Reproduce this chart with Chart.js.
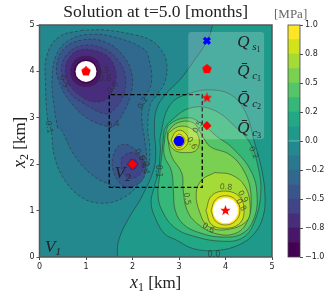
<!DOCTYPE html>
<html>
<head>
<meta charset="utf-8">
<style>
html,body{margin:0;padding:0;background:#fff;width:333px;height:300px;overflow:hidden}
canvas{position:absolute;left:0;top:0}
</style>
<script src="https://cdn.jsdelivr.net/npm/chart.js@4"></script>
</head>
<body>
<canvas id="plot" width="333" height="300"></canvas>
<canvas id="bar" width="333" height="300"></canvas>
<script>
// band colours, bottom to top of the colour bar
const bandColors = ['#440154','#481769','#472d7b','#414487','#39568c','#31688e','#2a788e','#23898e',
                    '#1f9a8a','#22a884','#35b779','#54c568','#7ad151','#a5db36','#d2e21b','#fde725'];
const bandEdges = [-1,-0.875,-0.75,-0.625,-0.5,-0.375,-0.25,-0.125,0,0.125,0.25,0.375,0.5,0.625,0.75,0.875,1];
const barTickValues = [-1,-0.75,-0.5,-0.25,0,0.25,0.5,0.75,1];
const barTickLabels = ['\u22121.0','\u22120.8','\u22120.5','\u22120.2','0.0','0.2','0.5','0.8','1.0'];
const axisTicks = [0,1,2,3,4,5];

// contour lines, in km
const backdrop = [[-1,-1],[6,-1],[6,6],[-1,6]];
const lineZero = [[3.78,5.5],[3.72,5],[3.6,4.65],[3.31,4.21],[3.02,3.82],[2.73,3.53],[2.52,3.2],[2.47,2.74],[2.5,2.3],[2.46,1.9],[2.2,1.3],[1.9,0.8],[1.7,0.35],[1.68,0],[1.72,-0.4],[5.6,-0.6],[5.6,5.6]];
const linePos1 = [[2.6,2.31],[2.6,2.6],[2.81,3.28],[3.24,3.53],[3.74,3.6],[4.17,3.46],[4.46,3.06],[4.6,2.56],[4.78,1.88],[4.85,1.31],[4.81,0.88],[4.63,0.52],[4.31,0.27],[3.81,0.14],[3.31,0.18],[2.95,0.36],[2.69,0.5],[2.51,0.8],[2.4,1.16],[2.47,1.52],[2.56,1.85]];
const linePos2 = [[2.68,2.74],[2.64,2.3],[2.59,1.81],[2.55,1.31],[2.66,0.95],[2.91,0.63],[3.31,0.45],[3.92,0.34],[4.38,0.42],[4.63,0.78],[4.76,1.4],[4.7,1.95],[4.53,2.45],[4.24,2.78],[3.74,3.17],[3.24,3.21],[2.81,2.92]];
const linePos3 = [[2.7,2.62],[2.68,2.2],[2.84,1.85],[2.88,1.4],[2.92,1.0],[3.1,0.7],[3.45,0.52],[3.92,0.43],[4.35,0.5],[4.6,0.8],[4.68,1.31],[4.55,1.85],[4.15,2.35],[3.81,2.6],[3.52,2.85],[3.2,3.0],[2.8,2.86]];
const linePos4 = [[2.75,2.6],[2.84,2.17],[3.06,1.81],[3.09,1.45],[3.17,1.02],[3.38,0.73],[3.81,0.5],[4.24,0.52],[4.48,0.8],[4.55,1.31],[4.42,1.81],[4.1,2.2],[3.67,2.38],[3.49,2.63],[3.31,2.89],[2.99,2.9],[2.77,2.71]];
const linePos5a = [[3.77,1.82],[3.49,1.66],[3.37,1.38],[3.45,0.95],[3.63,0.66],[4.02,0.59],[4.45,0.77],[4.53,1.09],[4.42,1.52],[4.13,1.77]];
const linePos5b = [[2.77,2.67],[2.99,2.81],[3.24,2.78],[3.42,2.6],[3.38,2.31],[3.09,2.25],[2.88,2.32],[2.77,2.52]];
const linePos6a = [[3.58,1.0],[3.7,1.32],[4.0,1.42],[4.3,1.3],[4.4,1.0],[4.3,0.72],[4.0,0.62],[3.7,0.7]];
const linePos6b = [[2.83,2.52],[2.93,2.7],[3.07,2.72],[3.2,2.55],[3.12,2.36],[2.95,2.32]];
const linePos7a = [[3.69,1.0],[3.78,1.23],[4.0,1.32],[4.22,1.23],[4.31,1.0],[4.22,0.78],[4.0,0.69],[3.78,0.78]];
const linePos7b = [[2.88,2.5],[3.0,2.65],[3.13,2.5],[3.0,2.36]];
const lineNeg1 = [[0.93,4.89],[0.43,4.75],[0.16,4.35],[0.13,3.71],[0.18,2.92],[0.25,2.74],[0.32,2.17],[0.54,1.66],[0.93,1.27],[1.36,1.16],[1.79,1.27],[2.15,1.59],[2.35,2.02],[2.37,2.38],[2.33,2.74],[2.38,3.28],[2.52,3.49],[2.7,3.78],[2.73,4.21],[2.59,4.5],[2.38,4.68],[2.08,4.78],[1.43,4.89]];
const lineNeg2 = [[0.39,2.78],[0.32,3.2],[0.27,3.78],[0.36,4.35],[0.65,4.68],[1.15,4.8],[1.72,4.71],[2.22,4.5],[2.33,4.35],[2.41,3.78],[2.23,3.32],[2.2,3.0],[2.26,2.52],[2.3,2.1],[2.15,1.66],[1.86,1.49],[1.51,1.56],[1.08,1.81],[0.72,2.24],[0.47,2.74]];
const lineNeg3a = [[1.55,2.78],[1.08,2.96],[0.68,3.32],[0.43,3.75],[0.37,4.14],[0.54,4.5],[0.93,4.68],[1.4,4.64],[1.79,4.35],[1.99,3.92],[1.95,3.46],[1.76,3.03]];
const lineNeg3b = [[1.56,1.95],[1.58,2.17],[1.72,2.4],[1.94,2.4],[2.22,2.13],[2.28,1.92],[2.19,1.63],[1.86,1.51],[1.65,1.7]];
const lineNeg4a = [[0.52,3.78],[0.47,4.07],[0.61,4.39],[0.93,4.56],[1.36,4.5],[1.68,4.25],[1.85,3.89],[1.79,3.46],[1.54,3.12],[1.36,3.1],[0.93,3.32],[0.65,3.53]];
const lineNeg4b = [[1.76,2.13],[1.94,2.25],[2.15,2.17],[2.24,1.99],[2.15,1.77],[1.94,1.7],[1.78,1.84]];
const lineNeg5a = [[1.59,3.64],[1.65,3.92],[1.51,4.28],[1.22,4.44],[0.86,4.46],[0.63,4.28],[0.56,4.0],[0.65,3.71],[0.9,3.46],[1.22,3.34],[1.47,3.42]];
const lineNeg5b = [[1.88,2.0],[2.0,2.12],[2.12,2.0],[2.0,1.88]];
const lineNeg6a = [[1.33,4.0],[1.24,4.24],[1.0,4.33],[0.76,4.24],[0.67,4.0],[0.76,3.76],[1.0,3.67],[1.24,3.76]];
const lineNeg6b = [[1.93,2.0],[2.0,2.07],[2.07,2.0],[2.0,1.93]];
const lineNeg7a = [[1.26,4.0],[1.18,4.18],[1.0,4.26],[0.82,4.18],[0.74,4.0],[0.82,3.82],[1.0,3.74],[1.18,3.82]];

// draw order: outermost first; [points, band index, dashed]
const contours = [
  [backdrop,7,false],
  [lineZero,8,false],[linePos1,9,false],[linePos2,10,false],[linePos3,11,false],[linePos4,12,false],
  [linePos5a,13,false],[linePos5b,13,false],[linePos6a,14,false],[linePos6b,14,false],[linePos7a,15,false],[linePos7b,15,false],
  [lineNeg1,6,true],[lineNeg2,5,true],[lineNeg3a,4,true],[lineNeg3b,4,true],[lineNeg4a,3,true],[lineNeg4b,3,true],
  [lineNeg5a,2,true],[lineNeg5b,2,true],[lineNeg6a,1,true],[lineNeg6b,1,true],[lineNeg7a,0,true]
];

const boxV2 = [[1.5,1.5],[3.5,1.5],[3.5,3.5],[1.5,3.5],[1.5,1.5]];
const holes = [[1,4],[4,1]];
const holeSizes = [10.5,12.5];
const pentagons = [[1,4],[3.6,4.05]];
const stars = [[4,1],[3.6,3.43]];
const diamonds = [[2,2],[3.6,2.83]];
const blueCircle = [[3,2.5]];
const blueCross = [[3.6,4.66]];
const panelBox = [3.2,4.83,2.54,4.85];

// contour labels: text, x, y, rotation in degrees
const contourLabels = [
  ['0.1',0.2,2.8,80],['0.5',0.52,3.78,70],['0.4',1.59,2.85,-8],['0.6',1.58,3.65,-50],['0.2',2.23,3.32,-60],
  ['0.9',1.36,4.02,0],['0.8',1.41,3.84,0],['0.5',2.15,2.2,60],['0.6',2.22,2.05,80],['0.4',2.27,1.93,90],
  ['0.1',2.55,1.85,90],['0.2',4.6,2.25,65],['0.0',3.75,0.04,0],['0.5',3.17,1.25,80],['0.6',3.63,0.62,30],
  ['0.8',4.01,1.5,5],['0.9',4.37,1.3,60],['0.8',4.33,1.12,60],['0.6',3.27,2.45,60],['0.5',3.41,2.8,-60]
];

const toPoints = list => list.map(p => ({x:p[0], y:p[1]}));

function shapeMarker(size, pts) {
  const c = document.createElement('canvas');
  c.width = size; c.height = size;
  const g = c.getContext('2d');
  g.fillStyle = '#ff0000';
  g.beginPath();
  for (let i = 0; i < pts; i++) {
    // star markers alternate outer and inner radius
    const r = pts === 10 && i % 2 ? size * 0.21 : size * 0.5;
    const a = -Math.PI / 2 + i * 2 * Math.PI / pts;
    g.lineTo(size/2 + r * Math.cos(a), size/2 + r * Math.sin(a));
  }
  g.closePath();
  g.fill();
  return c;
}
const pentagonMark = shapeMarker(10, 5);
const starMark = shapeMarker(11, 10);

const datasets = [];
contours.forEach(([pts, band, dashed], i) => {
  datasets.push({
    data: toPoints(pts.concat([pts[0]])),
    showLine: true, pointRadius: 0, tension: i === 0 ? 0 : 0.4, capBezierPoints: false,
    fill: 'shape', backgroundColor: bandColors[band],
    borderColor: 'rgba(45,45,45,0.6)', borderWidth: 0.9,
    borderDash: dashed ? [3,2] : []
  });
});
datasets.push({ data: toPoints(holes), showLine: false, pointStyle: 'circle', pointRadius: holeSizes,
  backgroundColor: '#ffffff', borderWidth: 0 });
datasets.push({ data: toPoints(boxV2), showLine: true, pointRadius: 0, tension: 0, fill: false,
  borderColor: '#000000', borderWidth: 1.3, borderDash: [4,2.5] });
const markersFrom = datasets.length;
datasets.push({ data: toPoints(pentagons), showLine: false, pointStyle: pentagonMark, pointRadius: 6 });
datasets.push({ data: toPoints(stars), showLine: false, pointStyle: starMark, pointRadius: 6 });
datasets.push({ data: toPoints(diamonds), showLine: false, pointStyle: 'rectRot', pointRadius: 4.6, backgroundColor: '#ff0000', borderWidth: 0 });
datasets.push({ data: toPoints(blueCircle), showLine: false, pointStyle: 'circle', pointRadius: 5.2, backgroundColor: '#0000ff', borderWidth: 0 });
datasets.push({ data: toPoints(blueCross), showLine: false, pointStyle: 'crossRot', pointRadius: 4.2, borderColor: '#0000ff', borderWidth: 3.2 });
// later datasets go on top
datasets.forEach((d, i) => { d.order = datasets.length - i; });

const serif = '"Liberation Serif"';

function richText(ctx, parts, x, y) {
  let cx = x;
  parts.forEach(([txt, font, dy]) => {
    ctx.font = font;
    ctx.fillText(txt, cx, y + (dy || 0));
    cx += ctx.measureText(txt).width;
  });
  return cx;
}

function subLabel(main, sub, subsub) {
  const parts = [[main, 'italic 17px ' + serif], [sub, 'italic 11px ' + serif, 3]];
  if (subsub) parts.push([subsub, '8px ' + serif, 5]);
  return parts;
}

const panelPlugin = {
  id: 'panel',
  beforeDatasetDraw(chart, args) {
    if (args.index !== markersFrom) return;
    const {x, y} = chart.scales;
    const ctx = chart.ctx;
    ctx.save();
    ctx.fillStyle = 'rgba(255,255,255,0.2)';
    ctx.beginPath();
    ctx.roundRect(x.getPixelForValue(panelBox[0]), y.getPixelForValue(panelBox[3]),
      x.getPixelForValue(panelBox[1]) - x.getPixelForValue(panelBox[0]),
      y.getPixelForValue(panelBox[2]) - y.getPixelForValue(panelBox[3]), 3);
    ctx.fill();
    ctx.restore();
  }
};

const textPlugin = {
  id: 'texts',
  afterDraw(chart) {
    const ctx = chart.ctx, {x, y} = chart.scales, a = chart.chartArea;
    ctx.save();
    // frame
    ctx.strokeStyle = '#555';
    ctx.lineWidth = 1.5;
    ctx.strokeRect(a.left, a.top, a.right - a.left, a.bottom - a.top);
    // contour labels
    ctx.fillStyle = 'rgba(45,45,45,0.7)';
    ctx.font = '8px "DejaVu Sans"';
    ctx.textAlign = 'center';
    ctx.textBaseline = 'middle';
    contourLabels.forEach(([t, lx, ly, rot]) => {
      ctx.save();
      ctx.translate(x.getPixelForValue(lx), y.getPixelForValue(ly));
      ctx.rotate(rot * Math.PI / 180);
      ctx.fillText(t, 0, 0);
      ctx.restore();
    });
    ctx.textAlign = 'left';
    ctx.textBaseline = 'alphabetic';
    ctx.fillStyle = '#222';
    // region names and legend
    richText(ctx, subLabel('V', '1'), x.getPixelForValue(0.12), y.getPixelForValue(0.1));
    richText(ctx, subLabel('V', '2'), x.getPixelForValue(1.62), y.getPixelForValue(1.71));
    richText(ctx, subLabel('Q', ' s', '1'), x.getPixelForValue(4.25), y.getPixelForValue(4.53));
    richText(ctx, subLabel('Q\u0304', ' c', '1'), x.getPixelForValue(4.25), y.getPixelForValue(3.9));
    richText(ctx, subLabel('Q\u0304', ' c', '2'), x.getPixelForValue(4.25), y.getPixelForValue(3.3));
    richText(ctx, subLabel('Q\u0304', ' c', '3'), x.getPixelForValue(4.25), y.getPixelForValue(2.68));
    // axis names
    const xParts = [['x', 'italic 18px ' + serif], ['1', '12px ' + serif, 3], [' [km]', '17px ' + serif]];
    richText(ctx, xParts, 130, 288);
    ctx.translate(25, 168);
    ctx.rotate(-Math.PI / 2);
    richText(ctx, [['x', 'italic 18px ' + serif], ['2', '12px ' + serif, 3], [' [km]', '17px ' + serif]], 0, 0);
    ctx.restore();
  }
};

new Chart(document.getElementById('plot'), {
  type: 'scatter',
  data: { datasets },
  plugins: [panelPlugin, textPlugin],
  options: {
    responsive: false, animation: false, events: [],
    layout: { padding: { left: 0, right: 61, top: 0, bottom: 0 } },
    plugins: {
      legend: { display: false }, tooltip: { enabled: false },
      title: { display: true, text: 'Solution at t=5.0 [months]', fullSize: false, color: '#222',
        font: { family: serif, size: 17.5, weight: 'normal', lineHeight: 1 }, padding: { top: 4, bottom: 3.5 } }
    },
    scales: {
      x: { type: 'linear', min: 0, max: 5, grid: { drawOnChartArea: false, tickLength: 3, tickColor: '#222', tickWidth: 0.8 },
        border: { display: false },
        afterBuildTicks: s => { s.ticks = axisTicks.map(v => ({value: v})); },
        ticks: { color: '#222', font: { family: '"DejaVu Sans"', size: 8 }, padding: 2, maxRotation: 0 },
        afterFit: s => { s.height = 43; } },
      y: { type: 'linear', min: 0, max: 5, grid: { drawOnChartArea: false, tickLength: 3, tickColor: '#222', tickWidth: 0.8 },
        border: { display: false },
        afterBuildTicks: s => { s.ticks = axisTicks.map(v => ({value: v})); },
        ticks: { color: '#222', font: { family: '"DejaVu Sans"', size: 8 }, padding: 2 },
        afterFit: s => { s.width = 39.5; } }
    }
  }
});

const barLabelPlugin = {
  id: 'barLabel',
  afterDraw(chart) {
    const ctx = chart.ctx, a = chart.chartArea;
    ctx.save();
    ctx.strokeStyle = '#444';
    ctx.lineWidth = 0.8;
    ctx.strokeRect(a.left, a.top, a.right - a.left, a.bottom - a.top);
    ctx.fillStyle = '#666';
    ctx.font = '13px ' + serif;
    ctx.fillText('[MPa]', 274, 18);
    ctx.restore();
  }
};

new Chart(document.getElementById('bar'), {
  type: 'bar',
  data: {
    labels: bandColors.map(() => 'band'),
    datasets: bandColors.map((c, i) => ({
      data: [[bandEdges[i], bandEdges[i + 1]]],
      backgroundColor: c, borderWidth: 0, barPercentage: 1, categoryPercentage: 1, grouped: false
    }))
  },
  plugins: [barLabelPlugin],
  options: {
    responsive: false, animation: false, events: [],
    layout: { padding: { left: 288, right: 0, top: 25, bottom: 43 } },
    plugins: { legend: { display: false }, tooltip: { enabled: false } },
    scales: {
      x: { display: false, labels: ['band'] },
      y: { position: 'right', min: -1, max: 1,
        grid: { drawOnChartArea: false, tickLength: 3, tickColor: '#222', tickWidth: 0.8 }, border: { display: false },
        afterBuildTicks: s => { s.ticks = barTickValues.map(v => ({value: v})); },
        ticks: { color: '#222', font: { family: '"DejaVu Sans"', size: 8 }, padding: 2,
          callback: v => barTickLabels[barTickValues.indexOf(v)] },
        afterFit: s => { s.width = 33; } }
    }
  }
});
</script>
</body>
</html>
